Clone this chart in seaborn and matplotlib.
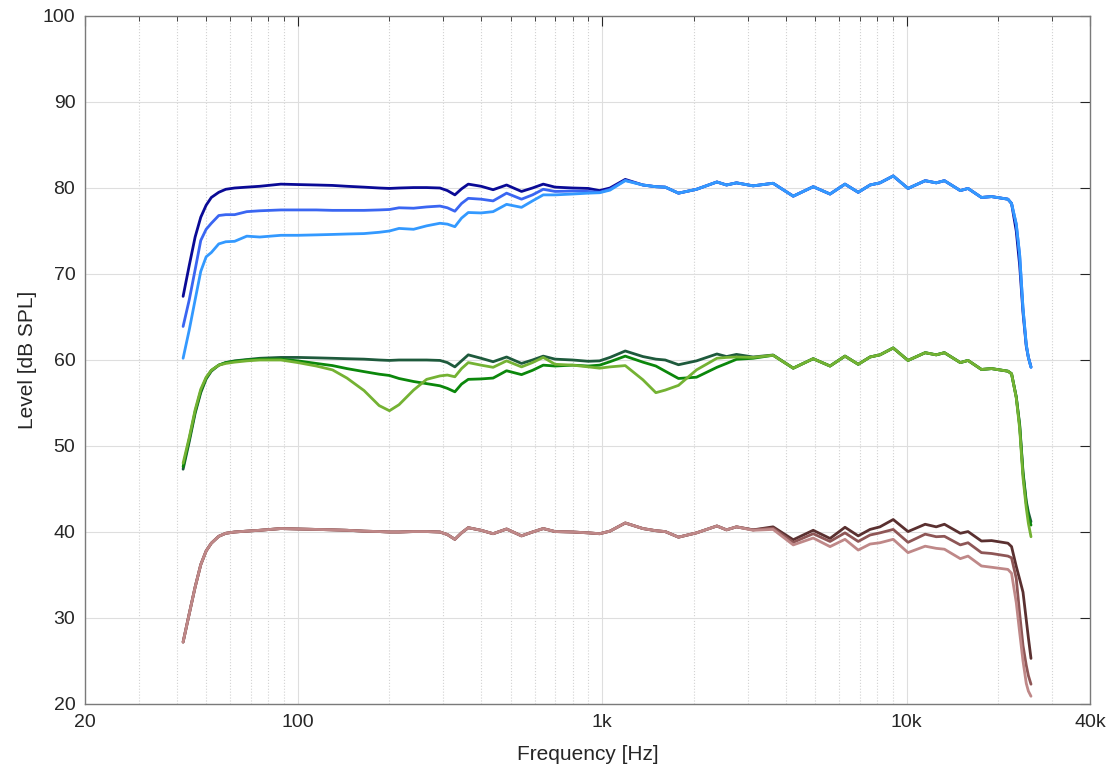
import pandas as pd
import matplotlib
matplotlib.use("Agg")
import matplotlib.pyplot as plt
import matplotlib.ticker as mticker
import seaborn as sns

# frequency grid (Hz) shared by all curves
freq = [42, 44, 46, 48, 50, 52, 55, 58, 62, 68,
        75, 88, 100, 115, 130, 145, 165, 185, 200, 215,
        240, 265, 293, 310, 328, 345, 363, 400, 438, 485,
        543, 590, 640, 700, 800, 900, 980, 1060, 1190, 1360,
        1500, 1610, 1780, 2040, 2380, 2560, 2760, 3130, 3640, 4240,
        4930, 5600, 6270, 6930, 7580, 8170, 9030, 10100, 11500, 12500,
        13300, 15000, 15900, 17600, 19000, 21500, 22100, 22900, 23500, 24100,
        24700, 25100, 25600]

# blue group (~80 dB)
blue_dark = [67.4, 71.0, 74.3, 76.6, 78.0, 78.9, 79.5, 79.85, 80.0, 80.1,
             80.2, 80.45, 80.4, 80.35, 80.3, 80.2, 80.1, 80.0, 79.95, 80.0,
             80.05, 80.05, 80.0, 79.7, 79.2, 79.9, 80.45, 80.2, 79.8, 80.35,
             79.6, 80.0, 80.45, 80.1, 80.0, 79.95, 79.7, 80.0, 81.0, 80.35,
             80.15, 80.1, 79.4, 79.85, 80.7, 80.35, 80.6, 80.25, 80.55, 79.05,
             80.15, 79.3, 80.45, 79.5, 80.35, 80.6, 81.4, 79.95, 80.85, 80.6,
             80.85, 79.7, 79.95, 78.9, 79.0, 78.7, 78.2, 75.0, 71.0, 65.5,
             61.6, 60.3, 59.2]
blue_mid = [63.9, 67.0, 70.5, 73.9, 75.2, 75.9, 76.8, 76.9, 76.9, 77.25,
            77.35, 77.45, 77.45, 77.45, 77.4, 77.4, 77.4, 77.45, 77.5, 77.7,
            77.65, 77.8, 77.9, 77.7, 77.3, 78.2, 78.8, 78.7, 78.5, 79.4,
            78.7, 79.2, 79.85, 79.6, 79.65, 79.6, 79.5, 79.85, 80.9, 80.35,
            80.15, 80.1, 79.4, 79.85, 80.7, 80.35, 80.6, 80.25, 80.55, 79.05,
            80.15, 79.3, 80.45, 79.5, 80.35, 80.6, 81.4, 79.95, 80.85, 80.6,
            80.85, 79.7, 79.95, 78.9, 79.0, 78.7, 78.2, 75.8, 72.2, 66.0,
            61.8, 60.3, 59.15]
blue_light = [60.2, 63.5, 67.0, 70.3, 72.0, 72.5, 73.5, 73.75, 73.8, 74.4,
              74.3, 74.5, 74.5, 74.55, 74.6, 74.65, 74.7, 74.85, 75.0, 75.3,
              75.2, 75.6, 75.9, 75.8, 75.5, 76.5, 77.15, 77.1, 77.25, 78.1,
              77.75, 78.5, 79.2, 79.2, 79.3, 79.4, 79.45, 79.75, 80.85, 80.35,
              80.15, 80.1, 79.4, 79.85, 80.7, 80.35, 80.6, 80.25, 80.55, 79.05,
              80.15, 79.3, 80.45, 79.5, 80.35, 80.6, 81.4, 79.95, 80.85, 80.6,
              80.85, 79.7, 79.95, 78.9, 79.0, 78.7, 78.2, 75.8, 72.2, 66.0,
              61.8, 60.3, 59.15]

# green group (~60 dB)
green_dark = [47.3, 50.5, 53.8, 56.2, 57.8, 58.7, 59.4, 59.7, 59.9, 60.05,
              60.2, 60.3, 60.3, 60.25, 60.2, 60.15, 60.1, 60.0, 59.95, 60.0,
              60.0, 60.0, 59.95, 59.7, 59.2, 59.9, 60.6, 60.2, 59.8, 60.35,
              59.6, 60.0, 60.45, 60.1, 60.0, 59.85, 59.9, 60.3, 61.05, 60.4,
              60.1, 60.0, 59.45, 59.9, 60.7, 60.4, 60.65, 60.35, 60.58, 59.05,
              60.15, 59.3, 60.45, 59.5, 60.35, 60.6, 61.4, 59.95, 60.85, 60.6,
              60.85, 59.7, 59.95, 58.9, 59.0, 58.7, 58.4, 55.7, 52.5, 47.0,
              43.6, 42.3, 41.2]
green_mid = [47.6, 50.8, 54.0, 56.4, 57.9, 58.8, 59.4, 59.7, 59.85, 60.0,
             60.1, 60.1, 59.9, 59.6, 59.35, 59.0, 58.65, 58.35, 58.2, 57.85,
             57.5, 57.25, 57.0, 56.7, 56.3, 57.2, 57.75, 57.8, 57.9, 58.75,
             58.3, 58.8, 59.4, 59.3, 59.4, 59.3, 59.4, 59.8, 60.45, 59.75,
             59.3, 58.7, 57.85, 58.0, 59.15, 59.6, 60.08, 60.2, 60.55, 59.05,
             60.15, 59.3, 60.45, 59.5, 60.35, 60.6, 61.4, 59.95, 60.85, 60.6,
             60.85, 59.7, 59.95, 58.9, 59.0, 58.7, 58.4, 55.7, 52.3, 46.8,
             43.3, 41.8, 40.8]
green_light = [48.0, 51.0, 54.2, 56.6, 58.0, 58.8, 59.4, 59.6, 59.75, 59.9,
               60.0, 60.0, 59.7, 59.3, 58.85, 57.9, 56.45, 54.7, 54.1, 54.8,
               56.5, 57.75, 58.15, 58.25, 58.05, 59.0, 59.7, 59.4, 59.15, 59.9,
               59.2, 59.7, 60.3, 59.5, 59.4, 59.2, 59.05, 59.2, 59.35, 57.7,
               56.2, 56.5, 57.05, 58.85, 60.2, 60.3, 60.35, 60.3, 60.55, 59.05,
               60.15, 59.3, 60.45, 59.5, 60.35, 60.6, 61.4, 59.95, 60.85, 60.6,
               60.85, 59.7, 59.95, 58.9, 59.0, 58.7, 58.4, 55.6, 52.0, 46.3,
               42.8, 41.0, 39.45]

# brown group (~40 dB)
brown_dark = [27.2, 30.5, 33.6, 36.2, 37.8, 38.7, 39.5, 39.85, 40.0, 40.1,
              40.2, 40.4, 40.35, 40.3, 40.25, 40.2, 40.1, 40.05, 40.0, 40.0,
              40.05, 40.05, 40.0, 39.7, 39.15, 39.9, 40.5, 40.2, 39.8, 40.35,
              39.55, 40.0, 40.4, 40.05, 40.0, 39.9, 39.8, 40.1, 41.05, 40.4,
              40.15, 40.05, 39.4, 39.9, 40.7, 40.25, 40.6, 40.25, 40.6, 39.1,
              40.2, 39.25, 40.55, 39.55, 40.3, 40.6, 41.45, 40.05, 40.9, 40.6,
              40.9, 39.85, 40.05, 38.95, 39.0, 38.7, 38.3, 36.0, 34.5, 33.0,
              29.8, 27.7, 25.3]
brown_mid = [27.2, 30.5, 33.6, 36.2, 37.8, 38.7, 39.5, 39.85, 40.0, 40.1,
             40.2, 40.4, 40.35, 40.3, 40.25, 40.2, 40.1, 40.05, 40.0, 40.0,
             40.05, 40.05, 40.0, 39.7, 39.15, 39.9, 40.5, 40.2, 39.8, 40.35,
             39.55, 40.0, 40.4, 40.05, 40.0, 39.9, 39.8, 40.1, 41.05, 40.4,
             40.15, 40.05, 39.4, 39.9, 40.7, 40.25, 40.6, 40.25, 40.45, 38.8,
             39.8, 38.9, 39.9, 38.9, 39.65, 39.9, 40.3, 38.8, 39.75, 39.45,
             39.5, 38.5, 38.75, 37.6, 37.5, 37.2, 37.0, 34.6, 30.5, 26.8,
             24.5, 23.3, 22.3]
brown_light = [27.2, 30.5, 33.6, 36.2, 37.8, 38.7, 39.5, 39.85, 40.0, 40.1,
               40.2, 40.4, 40.35, 40.3, 40.25, 40.2, 40.1, 40.05, 40.0, 40.0,
               40.05, 40.05, 40.0, 39.7, 39.15, 39.9, 40.5, 40.2, 39.8, 40.35,
               39.55, 40.0, 40.4, 40.05, 40.0, 39.9, 39.8, 40.1, 41.05, 40.4,
               40.15, 40.05, 39.4, 39.9, 40.7, 40.25, 40.6, 40.2, 40.3, 38.5,
               39.3, 38.3, 39.15, 37.9, 38.6, 38.75, 39.15, 37.6, 38.35, 38.1,
               38.0, 36.9, 37.2, 36.05, 35.9, 35.65, 35.2, 31.8, 28.3, 25.0,
               22.4, 21.5, 20.9]

curves = {
    "blue_dark": blue_dark, "blue_mid": blue_mid, "blue_light": blue_light,
    "green_dark": green_dark, "green_mid": green_mid, "green_light": green_light,
    "brown_dark": brown_dark, "brown_mid": brown_mid, "brown_light": brown_light,
}
colors = {
    "blue_dark": "#0a0a96", "blue_mid": "#3a66f2", "blue_light": "#3399ff",
    "green_dark": "#1e5a3c", "green_mid": "#0b870b", "green_light": "#74b233",
    "brown_dark": "#5a3030", "brown_mid": "#8e5656", "brown_light": "#bf8888",
}

df = pd.concat(
    [pd.DataFrame({"freq": freq, "level": vals, "curve": name}) for name, vals in curves.items()],
    ignore_index=True,
)

sns.set_theme(style="white")
plt.rcParams["font.family"] = ["Liberation Sans", "DejaVu Sans"]

fig, ax = plt.subplots(figsize=(11.16, 7.76), dpi=100)
fig.subplots_adjust(left=85 / 1116, right=1090 / 1116, bottom=1 - 704 / 776, top=1 - 16 / 776)

sns.lineplot(data=df, x="freq", y="level", hue="curve", hue_order=list(curves),
             palette=colors, linewidth=2.0, legend=False, sort=False,
             estimator=None, ax=ax)

ax.set_xscale("log")
ax.set_xlim(20, 40000)
ax.set_ylim(20, 100)

ax.xaxis.set_major_locator(mticker.FixedLocator([20, 100, 1000, 10000, 40000]))
ax.xaxis.set_major_formatter(mticker.FixedFormatter(["20", "100", "1k", "10k", "40k"]))
minor = [30, 40, 50, 60, 70, 80, 90,
         200, 300, 400, 500, 600, 700, 800, 900,
         2000, 3000, 4000, 5000, 6000, 7000, 8000, 9000,
         20000, 30000]
ax.xaxis.set_minor_locator(mticker.FixedLocator(minor))
ax.xaxis.set_minor_formatter(mticker.NullFormatter())
ax.yaxis.set_major_locator(mticker.MultipleLocator(10))

ax.grid(which="major", color="#dedede", linestyle="-", linewidth=0.8)
ax.grid(which="minor", axis="x", color="#d2d2d2", linestyle=":", linewidth=0.8)
ax.set_axisbelow(True)

ax.tick_params(which="both", direction="in", top=True, right=True,
               colors="#262626", labelsize=14, pad=7)
ax.tick_params(which="major", length=7, width=0.8)
ax.tick_params(which="minor", length=3.5, width=0.6)
for sp in ax.spines.values():
    sp.set_color("#7a7a7a")
    sp.set_linewidth(1.0)

ax.set_xlabel("Frequency [Hz]", fontsize=15, color="#262626", labelpad=10)
ax.set_ylabel("Level [dB SPL]", fontsize=15, color="#262626", labelpad=4)

fig.savefig("out.png", dpi=100)
